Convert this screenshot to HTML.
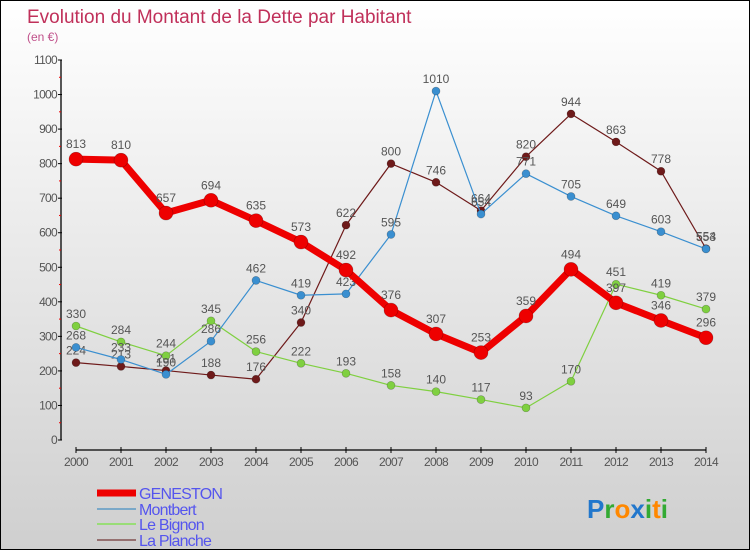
<!DOCTYPE html>
<html><head><meta charset="utf-8"><style>
html,body{margin:0;padding:0}
body{width:750px;height:550px;overflow:hidden;font-family:"Liberation Sans",sans-serif}
#frame{position:absolute;left:0;top:0;width:748px;height:548px;border:1px solid #000;background:linear-gradient(#ffffff,#cfcfcf)}
</style></head><body>
<div id="frame">
<svg id="chart" width="748" height="548" font-family="Liberation Sans, sans-serif"></svg>
</div>
<script>
const years=["2000","2001","2002","2003","2004","2005","2006","2007","2008","2009","2010","2011","2012","2013","2014"];
const geneston=[813,810,657,694,635,573,492,376,307,253,359,494,397,346,296];
const montbert=[268,233,190,286,462,419,423,595,1010,654,771,705,649,603,553];
const leBignon=[330,284,244,345,256,222,193,158,140,117,93,170,451,419,379];
const laPlanche=[224,213,201,188,176,340,622,800,746,664,820,944,863,778,554];
const yTicks=[0,100,200,300,400,500,600,700,800,900,1000,1100];
const svg=document.getElementById('chart');
const NS='http://www.w3.org/2000/svg';
function X(i){return 75+i*45;}
function Y(v){return 439-v*380/1100;}
function mk(tag,attrs,parent){const e=document.createElementNS(NS,tag);for(const k in attrs)e.setAttribute(k,attrs[k]);(parent||svg).appendChild(e);return e;}
let t=mk('text',{x:26,y:22,fill:'#c0305a','font-size':19});t.textContent='Evolution du Montant de la Dette par Habitant';


t=mk('text',{x:26,y:40,fill:'#c0508a','font-size':12});t.textContent='(en €)';


let ax=mk('line',{x1:60,y1:Y(1100),x2:60,y2:Y(0),stroke:'#000','stroke-width':1.3});


yTicks.forEach(v=>{
 mk('line',{x1:57,x2:61,y1:Y(v),y2:Y(v),stroke:'#000'});
 if(v<1100) mk('line',{x1:58,x2:60,y1:Y(v+50),y2:Y(v+50),stroke:'#e00'});
 const l=mk('text',{x:56,y:Y(v)+4,'text-anchor':'end','font-size':12,fill:'#555','letter-spacing':'-0.7'});l.textContent=v;
 
 
});
ax=mk('line',{x1:X(0),x2:X(14),y1:449,y2:449,stroke:'#000','stroke-width':1.3});


years.forEach((y,i)=>{
 mk('line',{x1:X(i),x2:X(i),y1:446,y2:452,stroke:'#000'});
 const l=mk('text',{x:X(i),y:465,'text-anchor':'middle','font-size':12,fill:'#555','letter-spacing':'-0.7'});l.textContent=y;
 
 
});
function series(data,color,w,r,name,labelOff){
 const g=mk('g',{});
 
 
 mk('polyline',{points:data.map((v,i)=>X(i)+','+Y(v)).join(' '),fill:'none',stroke:color,'stroke-width':w,'stroke-linejoin':'round'},g);
 data.forEach((v,i)=>{
  const c=mk('circle',{cx:X(i),cy:Y(v),r:r,fill:color,stroke:'rgba(0,0,0,0.3)','stroke-width':0.6},g);
  
  
  const l=mk('text',{x:X(i),y:Y(v)-labelOff,'text-anchor':'middle','font-size':12,fill:'#555'},g);l.textContent=v;
  
  
 });
}
series(laPlanche,'#6e1a1a',1.2,4,'la-planche',8);
series(leBignon,'#7fd040',1.2,4,'le-bignon',8);
series(montbert,'#3a8fd0',1.2,4,'montbert',8);
series(geneston,'#ee0000',7,7,'geneston',11);
const leg=[['GENESTON','#ee0000',7,498],['Montbert','#7aa8c8',2,514],['Le Bignon','#99dd77',2,529],['La Planche','#957070',2,545]];
leg.forEach(([n,c,w,y])=>{
 const g=mk('g',{});
 
 
 mk('line',{x1:96,x2:135,y1:y-6,y2:y-6,stroke:c,'stroke-width':w},g);
 const l=mk('text',{x:138,y:y,'font-size':16,fill:'#5555ee','letter-spacing':'-0.8'},g);l.textContent=n;
});
const lg=mk('text',{x:586,y:517,'font-size':26,'font-weight':'bold'});


[['P','#2277cc'],['r','#33aa33'],['o','#ff8800'],['x','#2277cc'],['i','#33aa33'],['t','#ff8800'],['i','#33aa33']].forEach(([ch,c])=>{const s=mk('tspan',{fill:c},lg);s.textContent=ch;});
</script>
</body></html>
